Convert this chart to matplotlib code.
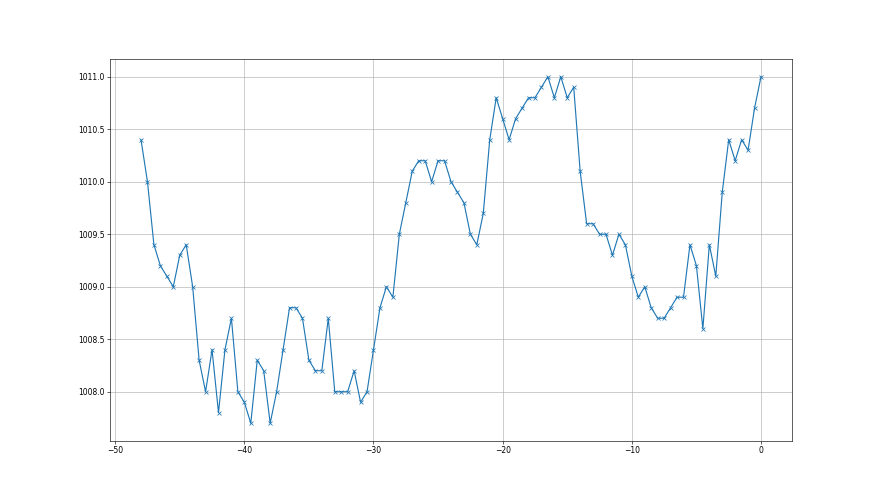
import numpy as np
import matplotlib
matplotlib.use('Agg')
import matplotlib.pyplot as plt

# 時刻 (h) : -48 ～ 0 を 0.5 刻み
hours = np.arange(-48, 0.01, 0.5)

# 気圧 (hPa)
pressure = [
    1010.4, 1010.0, 1009.4, 1009.2, 1009.1, 1009.0, 1009.3, 1009.4, 1009.0, 1008.3,
    1008.0, 1008.4, 1007.8, 1008.4, 1008.7, 1008.0, 1007.9, 1007.7, 1008.3, 1008.2,
    1007.7, 1008.0, 1008.4, 1008.8, 1008.8, 1008.7, 1008.3, 1008.2, 1008.2, 1008.7,
    1008.0, 1008.0, 1008.0, 1008.2, 1007.9, 1008.0, 1008.4, 1008.8, 1009.0, 1008.9,
    1009.5, 1009.8, 1010.1, 1010.2, 1010.2, 1010.0, 1010.2, 1010.2, 1010.0, 1009.9,
    1009.8, 1009.5, 1009.4, 1009.7, 1010.4, 1010.8, 1010.6, 1010.4, 1010.6, 1010.7,
    1010.8, 1010.8, 1010.9, 1011.0, 1010.8, 1011.0, 1010.8, 1010.9, 1010.1, 1009.6,
    1009.6, 1009.5, 1009.5, 1009.3, 1009.5, 1009.4, 1009.1, 1008.9, 1009.0, 1008.8,
    1008.7, 1008.7, 1008.8, 1008.9, 1008.9, 1009.4, 1009.2, 1008.6, 1009.4, 1009.1,
    1009.9, 1010.4, 1010.2, 1010.4, 1010.3, 1010.7, 1011.0,
]

fig, ax = plt.subplots(figsize=(16, 9), dpi=55)

ax.plot(hours, pressure, marker='x', color='#1f77b4', linewidth=1.5)

ax.grid(True)
ax.ticklabel_format(axis='y', useOffset=False)
ax.yaxis.set_major_formatter(matplotlib.ticker.FormatStrFormatter('%.1f'))

plt.savefig('out.png', dpi=55)
